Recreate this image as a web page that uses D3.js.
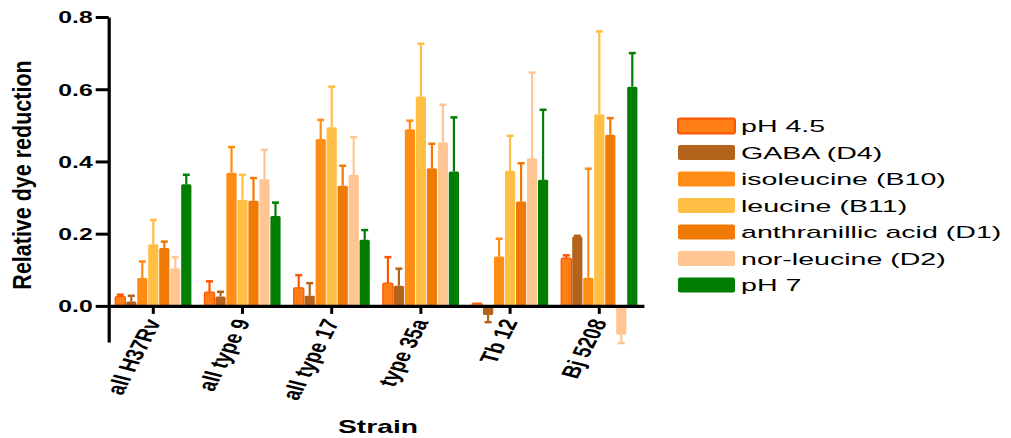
<!DOCTYPE html>
<html><head><meta charset="utf-8">
<script src="https://cdn.jsdelivr.net/npm/d3@7"></script>
<style>
body{margin:0;background:#fff;}
svg{display:block;}
text{font-family:"Liberation Sans",Arial,sans-serif;fill:#000;}
</style></head>
<body>
<svg id="chart" width="1011" height="438"></svg>
<script>
const strains = ["all H37Rv","all type 9","all type 17","type 35a","Tb 12","Bj 5208"];
const seriesNames = ["pH 4.5","GABA (D4)","isoleucine (B10)","leucine (B11)","anthranillic acid (D1)","nor-leucine (D2)","pH 7"];
const pH45 =        [0.026,0.038,0.050,0.063,0.008,0.132];
const pH45Err =     [0.005,0.030,0.035,0.072,0.000,0.008];
const gaba =        [0.012,0.026,0.028,0.056,-0.025,0.192];
const gabaErr =     [0.016,0.013,0.035,0.047,0.020,0.002];
const isoleucine =  [0.077,0.369,0.462,0.489,0.137,0.078];
const isoleucineErr=[0.046,0.071,0.053,0.024,0.049,0.302];
const leucine =     [0.171,0.294,0.495,0.580,0.374,0.531];
const leucineErr =  [0.067,0.069,0.112,0.146,0.097,0.229];
const anthranillic =[0.160,0.291,0.333,0.381,0.289,0.474];
const anthranillicErr=[0.018,0.063,0.055,0.068,0.106,0.046];
const norleucine =  [0.104,0.351,0.363,0.453,0.409,-0.080];
const norleucineErr=[0.031,0.081,0.104,0.104,0.237,0.023];
const pH7 =         [0.337,0.249,0.183,0.372,0.349,0.607];
const pH7Err =      [0.026,0.037,0.027,0.150,0.194,0.093];
const yTicks = [0,0.2,0.4,0.6,0.8];

const values = [pH45,gaba,isoleucine,leucine,anthranillic,norleucine,pH7];
const errors = [pH45Err,gabaErr,isoleucineErr,leucineErr,anthranillicErr,norleucineErr,pH7Err];
const fills  = ["#FF7E16","#B4631A","#FF8C14","#FFBF45","#EF7A05","#FFC693","#027F02"];
const strokes= ["#FF5500","#B4631A","#FF8C14","#FFBF45","#EF7A05","#FFC693","#027F02"];

const svg = d3.select("#chart");
const y = d3.scaleLinear().domain([-0.1,0.8]).range([342,17]);
const x0 = d3.scaleBand().domain(strains).range([108.7,643.9]).paddingInner(0.137).paddingOuter(0.0685);
const x1 = d3.scaleBand().domain(seriesNames).range([0,x0.bandwidth()]);

// bars & error bars
const data = [];
strains.forEach((s,i)=>seriesNames.forEach((n,j)=>data.push({s,n,j,v:values[j][i],e:errors[j][i]})));
const g = svg.append("g");
const eb = g.selectAll("g.eb").data(data.filter(d=>d.e>0)).join("g")
  .attr("transform",d=>`translate(${x0(d.s)+x1(d.n)+x1.bandwidth()/2},0)`);
eb.append("line").attr("y1",d=>y(d.v)).attr("y2",d=>y(d.v+Math.sign(d.v)*d.e))
  .attr("stroke",d=>strokes[d.j]).attr("stroke-width",2.2);
eb.append("line").attr("x1",-3.5).attr("x2",3.5)
  .attr("y1",d=>y(d.v+Math.sign(d.v)*d.e)).attr("y2",d=>y(d.v+Math.sign(d.v)*d.e))
  .attr("stroke",d=>strokes[d.j]).attr("stroke-width",2.5);
g.selectAll("rect.bar").data(data).join("rect").attr("class","bar")
  .attr("x",d=>x0(d.s)+x1(d.n)+0.4)
  .attr("width",x1.bandwidth()-0.8)
  .attr("y",d=>Math.min(y(d.v),y(0)))
  .attr("height",d=>Math.abs(y(d.v)-y(0)))
  .attr("rx",1.5)
  .attr("fill",d=>fills[d.j])
  .attr("stroke",d=>d.j===0?strokes[0]:"none").attr("stroke-width",1.2);

// y axis
const ya = svg.append("g").attr("transform","translate(108.7,0)")
  .call(d3.axisLeft(y).tickValues(yTicks).tickFormat(d3.format(".1f")).tickSize(13).tickSizeOuter(0));
ya.select(".domain").attr("stroke-width",3.2);
ya.selectAll(".tick line").attr("stroke-width",3);
ya.selectAll(".tick text").attr("x",null).attr("dy","0.36em")
  .attr("transform","translate(-16,0) scale(1.5,1)")
  .style("font-size","16.5px").style("font-weight","bold").style("font-family","'Liberation Sans',Arial,sans-serif");

// x axis
const xa = svg.append("g").attr("transform",`translate(0,${y(0)})`)
  .call(d3.axisBottom(x0).tickSize(8).tickSizeOuter(0));
xa.select(".domain").attr("stroke-width",3.2);
xa.selectAll(".tick line").attr("stroke-width",3);
xa.selectAll(".tick text").attr("y",null).attr("dy",null)
  .attr("text-anchor","end")
  .attr("transform","translate(8,16) scale(1.45,1) rotate(-70)")
  .style("font-size","17.5px").style("font-weight","bold").style("font-family","'Liberation Sans',Arial,sans-serif");

// axis titles
svg.append("text").attr("text-anchor","middle")
  .attr("transform","translate(31,175) scale(1.2,1) rotate(-90)")
  .style("font-size","21.5px").style("font-weight","bold")
  .text("Relative dye reduction");
svg.append("text").attr("text-anchor","middle")
  .attr("transform","translate(378,433) scale(1.57,1)")
  .style("font-size","18px").style("font-weight","bold")
  .text("Strain");

// legend
const leg = svg.append("g").selectAll("g").data(seriesNames).join("g")
  .attr("transform",(d,i)=>`translate(678,${126+i*26.5})`);
leg.append("rect").attr("x",0).attr("y",-7.5).attr("width",57).attr("height",15).attr("rx",2)
  .attr("fill",(d,i)=>fills[i]).attr("stroke",(d,i)=>i===0?strokes[0]:"none").attr("stroke-width",2);
leg.append("text").attr("transform","translate(63,6.2) scale(1.68,1)")
  .style("font-size","17px").text(d=>d);
</script>
</body></html>
